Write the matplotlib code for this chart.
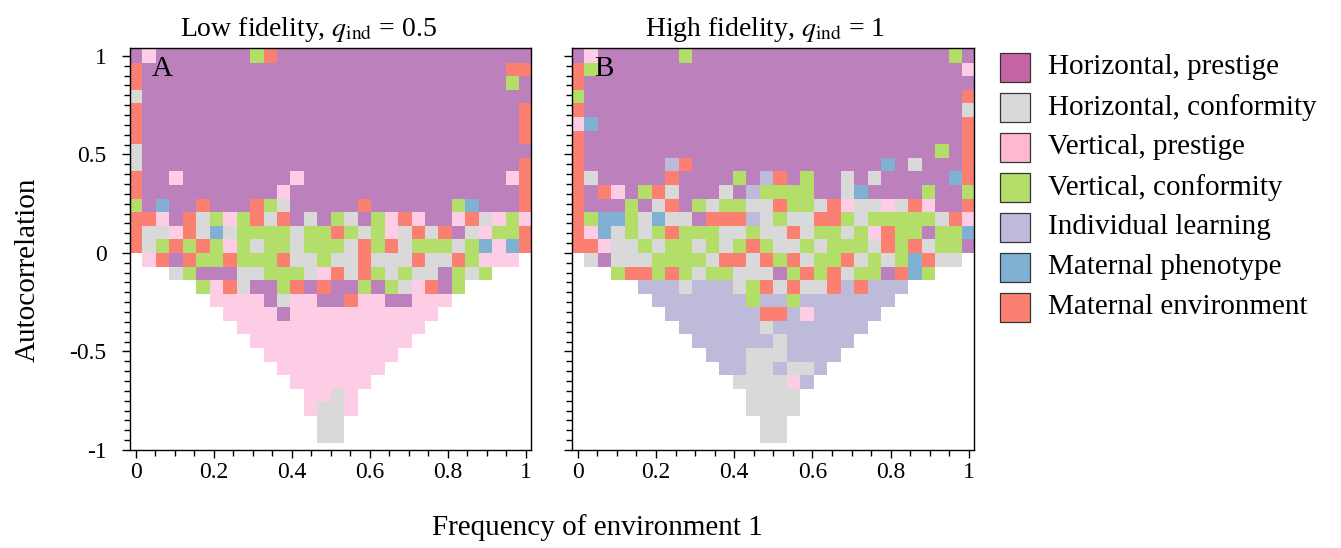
import matplotlib
matplotlib.use("Agg")
import matplotlib.pyplot as plt
from matplotlib.colors import ListedColormap
from matplotlib.patches import Rectangle
import numpy as np

plt.rcParams['font.family'] = ['Liberation Serif', 'DejaVu Serif']
plt.rcParams['mathtext.fontset'] = 'stix'

# categories (one letter code per learning strategy)
strategies = ['Horizontal, prestige', 'Horizontal, conformity', 'Vertical, prestige',
              'Vertical, conformity', 'Individual learning', 'Maternal phenotype',
              'Maternal environment']
codes = 'HhVvIme'
cell_colors = ['#BC80BD', '#D9D9D9', '#FCCDE5', '#B3DE69', '#BEBADA', '#80B1D3', '#FB8072']
key_colors = ['#C564A3', '#D9D9D9', '#FFB8D0', '#B3DE69', '#BEBADA', '#80B1D3', '#FB8072']

# grid axes
freq = np.linspace(0, 1, 30)
autocorr = np.linspace(1, -1, 30)

# winning strategy, rows from autocorrelation 1 (top) to -1 (bottom), '.' = none
low_fidelity = [
    "HVHHHHHHHveHHHHHHHHHHHHHHHHHHH",
    "eHHHHHHHHHHHHHHHHHHHHHHHHHHHee",
    "eHHHHHHHHHHHHHHHHHHHHHHHHHHHvH",
    "hHHHHHHHHHHHHHHHHHHHHHHHHHHHHH",
    "eHHHHHHHHHHHHHHHHHHHHHHHHHHHHe",
    "eHHHHHHHHHHHHHHHHHHHHHHHHHHHHe",
    "eHHHHHHHHHHHHHHHHHHHHHHHHHHHHe",
    "hHHHHHHHHHHHHHHHHHHHHHHHHHHHHH",
    "hHHHHHHHHHHHHHHHHHHHHHHHHHHHHe",
    "eHHVHHHHHHHHVHHHHHHHHHHHHHHHVe",
    "eHHHHHHHHHHVHHHHHHHHHHHHHHHHHe",
    "vHmHHeHHHevhHHHHHeHHHHHHvmHHHe",
    "eeVHehvVveheHhHvhHvVeVHHVehVvV",
    "ehhVehmhvvvvhvvevhvVheheHhVvve",
    "ehvevevVvhvvhvvvhevehvvvhvmVme",
    ".VeHevvevvvehhvhhehhhehhevVVV.",
    "...hvHHHhhvvvhVehevhvhhHvhv...",
    ".....vVehHHveHeHHvHvhVeHv.....",
    "......VVVVHhVVHHeVVHHVVV......",
    ".......VVVVHVVVVVVVVVVV.......",
    "........VVVVVVVVVVVVVV........",
    ".........VVVVVVVVVVVV.........",
    "..........VVVVVVVVVV..........",
    "...........VVVVVVVV...........",
    "............VVVVVV............",
    ".............VVhV.............",
    ".............VhhV.............",
    "..............hh..............",
    "..............hh..............",
    "..............................",
]

high_fidelity = [
    "HVHHHHHHvHHHHHHHHHHHHHHHHHHHvH",
    "evHHHHHHHHHHHHHHHHHHHHHHHHHHHV",
    "eHHHHHHHHHHHHHHHHHHHHHHHHHHHHH",
    "vHHHHHHHHHHHHHHHHHHHHHHHHHHHHe",
    "eHHHHHHHHHHHHHHHHHHHHHHHHHHHHh",
    "VmHHHHHHHHHHHHHHHHHHHHHHHHHHHe",
    "eHHHHHHHHHHHHHHHHHHHHHHHHHHHHe",
    "eHHHHHHHHHHHHHHHHHHHHHHHHHHvHe",
    "eHHHHHHIeHHHHHHHHHHHHHHmHhHHHe",
    "ehHHHHHeHHHHvHIeHvHHhHhHHHHHme",
    "eHeVHvehHHHhHIvvvvHHhmHHHHvHHv",
    "eHHHvHheHvhvvhhevvheVhhVheVHHe",
    "evmmvhmhhHeeeIhvhheevhvvvvvheV",
    "eVmhvhvevvvhhvhhehvvhvVevvHvvm",
    "eeVhhvhvvhvhvevhhvhvvvhevehvvH",
    ".hHhhhvvvvheehevehvvehvhvmehh.",
    "...veevevhvvhhhHvevehvvHemv...",
    ".....IIIhIIIhvehehheIeIII.....",
    "......IIIIIIIvIIvIIIIIII......",
    ".......IIIIIIIeeIVIIIII.......",
    "........IIIIIIhIIIIIII........",
    ".........IIIIIIhIIIII.........",
    "..........IIIhhhIIII..........",
    "...........IIhhIhhI...........",
    "............hhhhVI............",
    ".............hhhh.............",
    ".............hhhh.............",
    "..............hh..............",
    "..............hh..............",
    "..............................",
]

x_ticks = [0, 0.2, 0.4, 0.6, 0.8, 1]
x_tick_labels = ['0', '0.2', '0.4', '0.6', '0.8', '1']
y_ticks = [-1, -0.5, 0, 0.5, 1]
y_tick_labels = ['-1', '-0.5', '0', '0.5', '1']


def to_matrix(rows):
    return np.array([[codes.index(c) if c in codes else np.nan for c in r] for r in rows])


W, H = 1341, 548


def fig_box(left, top, right, bottom):
    return [left / W, 1 - bottom / H, (right - left) / W, (bottom - top) / H]


fig = plt.figure(figsize=(W / 100, H / 100), dpi=100)
cmap = ListedColormap(cell_colors)

panels = [
    (fig_box(130, 48, 531, 450), low_fidelity, r'Low fidelity, $q_{\mathrm{ind}}$ = 0.5', 308, 'A', True),
    (fig_box(572, 48, 974, 450), high_fidelity, r'High fidelity, $q_{\mathrm{ind}}$ = 1', 765, 'B', False),
]

for box, rows, title, title_x, letter, show_y in panels:
    ax = fig.add_axes(box)
    Z = np.ma.masked_invalid(to_matrix(rows))
    ax.pcolormesh(freq, autocorr, Z, cmap=cmap, vmin=-0.5, vmax=6.5, shading='nearest')
    ax.set_xlim(-0.0146, 1.013)
    ax.set_ylim(-1.0, 1.04)
    ax.set_xticks(x_ticks)
    ax.set_xticklabels(x_tick_labels)
    ax.set_xticks(np.arange(0, 1.001, 0.05), minor=True)
    ax.set_yticks(y_ticks)
    ax.set_yticklabels(y_tick_labels if show_y else [])
    ax.set_yticks(np.arange(-1, 1.001, 0.05), minor=True)
    ax.tick_params(which='both', direction='out', top=False, right=False, width=1, colors='black')
    ax.tick_params(which='major', length=6, labelsize=17)
    ax.tick_params(which='minor', length=4)
    ax.tick_params(axis='x', which='major', pad=3)
    ax.tick_params(axis='y', which='major', pad=11)
    for s in ax.spines.values():
        s.set_linewidth(1)
        s.set_color('black')
    ax.text(0.055, 0.93, letter, transform=ax.transAxes, fontsize=21, va='baseline', ha='left')
    fig.text(title_x / W, 1 - 36 / H, title, fontsize=20, ha='center', va='baseline')

fig.text(597 / W, 1 - 535 / H, 'Frequency of environment 1', fontsize=21, ha='center', va='baseline')
fig.text(28 / W, 1 - 270 / H, 'Autocorrelation', fontsize=21, rotation=90, ha='center', va='center')

# key
for i, (name, col) in enumerate(zip(strategies, key_colors)):
    yc = 67.5 + 40 * i
    fig.patches.append(Rectangle((1000 / W, 1 - (yc + 14.5) / H), 30 / W, 29 / H,
                                 transform=fig.transFigure, facecolor=col,
                                 edgecolor='#333333', linewidth=0.9))
    fig.text(1048 / W, 1 - yc / H, name, fontsize=21, ha='left', va='center')

fig.savefig('out.png', dpi=100)
